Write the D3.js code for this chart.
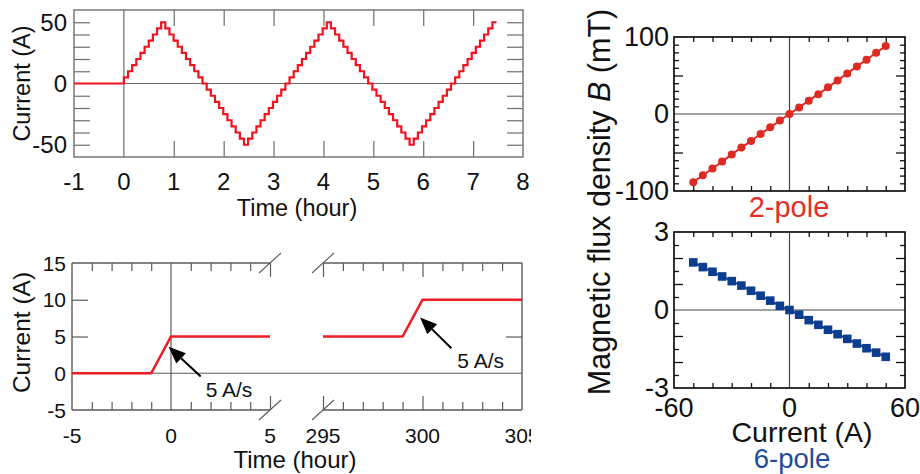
<!DOCTYPE html>
<html><head><meta charset="utf-8">
<script src="https://cdn.jsdelivr.net/npm/d3@7/dist/d3.min.js"></script>
<style>
html,body{margin:0;padding:0;background:#fff;}
svg{display:block;font-family:"Liberation Sans",Arial,Helvetica,sans-serif;}
</style></head><body>
<svg id="c" width="920" height="474"></svg>
<script>
// ---------- data: cyclic step current (top left) ----------
const stepTimes = [-1, 0, 0.083, 0.166, 0.249, 0.332, 0.415, 0.498, 0.581, 0.664, 0.747,
  0.83, 0.913, 0.996, 1.079, 1.162, 1.245, 1.328, 1.411, 1.494, 1.577,
  1.66, 1.743, 1.826, 1.909, 1.992, 2.075, 2.158, 2.241, 2.324, 2.407,
  2.49, 2.573, 2.656, 2.739, 2.822, 2.905, 2.988, 3.071, 3.154, 3.237,
  3.32, 3.403, 3.486, 3.569, 3.652, 3.735, 3.818, 3.901, 3.984, 4.067,
  4.15, 4.233, 4.316, 4.399, 4.482, 4.565, 4.648, 4.731, 4.814, 4.897,
  4.98, 5.063, 5.146, 5.229, 5.312, 5.395, 5.478, 5.561, 5.644, 5.727,
  5.81, 5.893, 5.976, 6.059, 6.142, 6.225, 6.308, 6.391, 6.474, 6.557,
  6.64, 6.723, 6.806, 6.889, 6.972, 7.055, 7.138, 7.221, 7.304, 7.387,
  7.47];
const stepCurrent = [0, 5, 10, 15, 20, 25, 30, 35, 40, 45, 50,
  45, 40, 35, 30, 25, 20, 15, 10, 5, 0,
  -5, -10, -15, -20, -25, -30, -35, -40, -45, -50,
  -45, -40, -35, -30, -25, -20, -15, -10, -5, 0,
  5, 10, 15, 20, 25, 30, 35, 40, 45, 50,
  45, 40, 35, 30, 25, 20, 15, 10, 5, 0,
  -5, -10, -15, -20, -25, -30, -35, -40, -45, -50,
  -45, -40, -35, -30, -25, -20, -15, -10, -5, 0,
  5, 10, 15, 20, 25, 30, 35, 40, 45, 50,
  50];
const topTimeTicks = [-1, 0, 1, 2, 3, 4, 5, 6, 7, 8];
const topTimeInnerTicks = [1, 2, 3, 4, 5, 6, 7];
const topCurrentTicks = [-50, 0, 50];
const topCurrentMinorTicks = [-50, -40, -30, -20, -10, 10, 20, 30, 40, 50];

// ---------- data: hold test (bottom left, broken axis) ----------
const holdTimesEarly = [-5, -1, 0, 5];
const holdCurrentEarly = [0, 0, 5, 5];
const holdTimesLate = [295, 299, 300, 305];
const holdCurrentLate = [5, 5, 10, 10];
const earlyTimeTicks = [-5, 0, 5];
const lateTimeTicks = [295, 300, 305];
const earlyMinorTicks = [-4, -3, -2, -1, 1, 2, 3, 4];
const lateMinorTicks = [296, 297, 298, 299, 301, 302, 303, 304];
const earlyMajorTicks = [5];
const lateMajorTicks = [295, 300];
const holdCurrentTicks = [-5, 0, 5, 10, 15];
const holdCurrentInnerTicks = [5, 10];
const rampNotes = [
  {text: "5 A/s", panel: "early", tip: [-0.12, 3.6], tail: [1.5, -0.45], label: [1.75, -3.2]},
  {text: "5 A/s", panel: "late", tip: [299.88, 7.6], tail: [301.45, 3.4], label: [301.75, 0.75]}
];

// ---------- data: magnetic flux density vs current (right) ----------
const fieldCurrent = [-50, -45, -40, -35, -30, -25, -20, -15, -10, -5, 0, 5, 10, 15, 20, 25, 30, 35, 40, 45, 50];
const field2pole = [-88.5, -79.5, -70.8, -61.8, -52.5, -43.6, -35.0, -26.0, -17.3, -8.4, 0, 8.6, 17.3, 25.8, 34.6, 43.6, 52.7, 61.8, 70.4, 79.5, 88.2];
const field6pole = [1.83, 1.65, 1.47, 1.29, 1.11, 0.94, 0.74, 0.55, 0.36, 0.16, 0, -0.18, -0.39, -0.57, -0.76, -0.93, -1.11, -1.29, -1.47, -1.64, -1.80];
const fieldCurrentTicks = [-60, 0, 60];
const fieldCurrentMinorTicks = [-50, -40, -30, -20, -10, 10, 20, 30, 40, 50];
const field2Ticks = [-100, 0, 100];
const field2MinorTicks = [-90, -80, -70, -60, -40, -30, -20, -10, 10, 20, 30, 40, 60, 70, 80, 90];
const field2MajorTicks = [-50, 50];
const field6Ticks = [-3, 0, 3];
const field6MinorTicks = [-2.5, -1.5, -0.5, 0.5, 1.5, 2.5];
const field6MajorTicks = [-2, -1, 1, 2];

// ---------- drawing ----------
const svg = d3.select("#c");

function tickAxis(g, axis, values, size, color, width) {
  g.call(axis.tickValues(values).tickSize(-size).tickFormat(""));
  g.select(".domain").remove();
  g.selectAll(".tick line").attr("stroke", color).attr("stroke-width", width);
  g.selectAll(".tick text").remove();
}

// ===== Top-left: cyclic current =====
{
  const x = d3.scaleLinear().domain([-1, 8]).range([74, 523]);
  const y = d3.scaleLinear().domain([-60, 60]).range([157, 10]);
  const g = svg.append("g");
  const grey = "#6e6e6e";
  g.append("line").attr("x1", x(0)).attr("x2", x(0)).attr("y1", y(60)).attr("y2", y(-60)).attr("stroke", grey).attr("stroke-width", 1.2);
  g.append("line").attr("x1", x(-1)).attr("x2", x(8)).attr("y1", y(0)).attr("y2", y(0)).attr("stroke", grey).attr("stroke-width", 1.2);
  tickAxis(g.append("g").attr("transform", `translate(0,${y(60)})`), d3.axisTop(x), topTimeInnerTicks, 16, grey, 1.2);
  tickAxis(g.append("g").attr("transform", `translate(0,${y(-60)})`), d3.axisBottom(x), topTimeInnerTicks, 16, grey, 1.2);
  tickAxis(g.append("g").attr("transform", `translate(${x(-1)},0)`), d3.axisLeft(y), topCurrentMinorTicks, 16, grey, 1.2);
  tickAxis(g.append("g").attr("transform", `translate(${x(8)},0)`), d3.axisRight(y), topCurrentMinorTicks, 16, grey, 1.2);
  g.append("rect").attr("x", x(-1)).attr("y", y(60)).attr("width", x(8) - x(-1)).attr("height", y(-60) - y(60))
    .attr("fill", "none").attr("stroke", grey).attr("stroke-width", 1.4);
  const pts = stepTimes.map((t, i) => [t, stepCurrent[i]]);
  g.append("path").datum(pts)
    .attr("d", d3.line().x(d => x(d[0])).y(d => y(d[1])).curve(d3.curveStepAfter))
    .attr("fill", "none").attr("stroke", "#f2121e").attr("stroke-width", 2.2);
  g.selectAll(".xl").data(topTimeTicks).join("text").attr("x", d => x(d)).attr("y", 190)
    .attr("text-anchor", "middle").attr("font-size", 24).attr("fill", "#111").text(d => d);
  g.selectAll(".yl").data(topCurrentTicks).join("text").attr("x", 67).attr("y", d => y(d) + 8.5)
    .attr("text-anchor", "end").attr("font-size", 24).attr("fill", "#111").text(d => d);
  g.append("text").attr("x", 297).attr("y", 216).attr("text-anchor", "middle").attr("font-size", 23.5).attr("fill", "#111").text("Time (hour)");
  g.append("text").attr("transform", `translate(30,${y(0)}) rotate(-90)`).attr("text-anchor", "middle")
    .attr("font-size", 23.5).attr("fill", "#111").text("Current (A)");
}

// ===== Bottom-left: hold test with broken axis =====
{
  const xE = d3.scaleLinear().domain([-5, 5]).range([72, 270]);
  const xL = d3.scaleLinear().domain([295, 305]).range([323, 522]);
  const y = d3.scaleLinear().domain([-5, 15]).range([410, 263]);
  svg.append("defs").append("clipPath").attr("id", "clipL").append("rect").attr("x", 0).attr("y", 230).attr("width", 531).attr("height", 244);
  const g = svg.append("g").attr("clip-path", "url(#clipL)");
  const grey = "#5a5a5a";
  g.append("line").attr("x1", xE(-5)).attr("x2", xL(305)).attr("y1", y(0)).attr("y2", y(0)).attr("stroke", grey).attr("stroke-width", 1.2);
  g.append("line").attr("x1", xE(0)).attr("x2", xE(0)).attr("y1", y(15)).attr("y2", y(-5)).attr("stroke", grey).attr("stroke-width", 1.2);
  const seg = (x1, y1, x2, y2, w) => g.append("line").attr("x1", x1).attr("y1", y1).attr("x2", x2).attr("y2", y2).attr("stroke", grey).attr("stroke-width", w || 1.4);
  seg(xE(-5), y(15), xE(5), y(15)); seg(xE(-5), y(-5), xE(5), y(-5)); seg(xE(-5), y(15), xE(-5), y(-5));
  seg(xL(295), y(15), xL(305), y(15)); seg(xL(295), y(-5), xL(305), y(-5)); seg(xL(305), y(15), xL(305), y(-5));
  tickAxis(g.append("g").attr("transform", `translate(0,${y(15)})`), d3.axisTop(xE), earlyMinorTicks, 8, grey, 1.2);
  tickAxis(g.append("g").attr("transform", `translate(0,${y(-5)})`), d3.axisBottom(xE), earlyMinorTicks, 8, grey, 1.2);
  tickAxis(g.append("g").attr("transform", `translate(0,${y(15)})`), d3.axisTop(xE), earlyMajorTicks, 14, grey, 1.2);
  tickAxis(g.append("g").attr("transform", `translate(0,${y(-5)})`), d3.axisBottom(xE), earlyMajorTicks, 14, grey, 1.2);
  tickAxis(g.append("g").attr("transform", `translate(0,${y(15)})`), d3.axisTop(xL), lateMinorTicks, 8, grey, 1.2);
  tickAxis(g.append("g").attr("transform", `translate(0,${y(-5)})`), d3.axisBottom(xL), lateMinorTicks, 8, grey, 1.2);
  tickAxis(g.append("g").attr("transform", `translate(0,${y(15)})`), d3.axisTop(xL), lateMajorTicks, 14, grey, 1.2);
  tickAxis(g.append("g").attr("transform", `translate(0,${y(-5)})`), d3.axisBottom(xL), lateMajorTicks, 14, grey, 1.2);
  tickAxis(g.append("g").attr("transform", `translate(${xE(-5)},0)`), d3.axisLeft(y), holdCurrentInnerTicks, 16, grey, 1.2);
  tickAxis(g.append("g").attr("transform", `translate(${xL(305)},0)`), d3.axisRight(y), holdCurrentInnerTicks, 16, grey, 1.2);
  [[xE(5), y(15)], [xE(5), y(-5)], [xL(295), y(15)], [xL(295), y(-5)]].forEach(([cx, cy]) => seg(cx - 11, cy + 10, cx + 11, cy - 10, 1.1));
  const line = (xs) => d3.line().x(d => xs(d[0])).y(d => y(d[1]));
  g.append("path").datum(holdTimesEarly.map((t, i) => [t, holdCurrentEarly[i]])).attr("d", line(xE))
    .attr("fill", "none").attr("stroke", "#ec1c24").attr("stroke-width", 2.6).attr("stroke-linejoin", "round");
  g.append("path").datum(holdTimesLate.map((t, i) => [t, holdCurrentLate[i]])).attr("d", line(xL))
    .attr("fill", "none").attr("stroke", "#ec1c24").attr("stroke-width", 2.6).attr("stroke-linejoin", "round");
  rampNotes.forEach(n => {
    const xs = n.panel === "early" ? xE : xL;
    const tx = xs(n.tip[0]), ty = y(n.tip[1]), sx = xs(n.tail[0]), sy = y(n.tail[1]);
    const ang = Math.atan2(ty - sy, tx - sx);
    const hl = 17, hw = 7;
    const bx = tx - hl * Math.cos(ang), by = ty - hl * Math.sin(ang);
    g.append("line").attr("x1", sx).attr("y1", sy).attr("x2", bx).attr("y2", by).attr("stroke", "#000").attr("stroke-width", 2);
    g.append("path").attr("d", `M${tx},${ty}L${bx + hw * Math.sin(ang)},${by - hw * Math.cos(ang)}L${bx - hw * Math.sin(ang)},${by + hw * Math.cos(ang)}Z`).attr("fill", "#000");
    g.append("text").attr("x", xs(n.label[0])).attr("y", y(n.label[1])).attr("font-size", 21).attr("fill", "#111").text(n.text);
  });
  const lab = (xs, vals) => g.selectAll(null).data(vals).join("text").attr("x", d => xs(d)).attr("y", 443)
    .attr("text-anchor", "middle").attr("font-size", 21).attr("fill", "#111").text(d => d);
  lab(xE, earlyTimeTicks); lab(xL, lateTimeTicks);
  g.selectAll(null).data(holdCurrentTicks).join("text").attr("x", 66).attr("y", d => y(d) + 7.5)
    .attr("text-anchor", "end").attr("font-size", 21).attr("fill", "#111").text(d => d);
  g.append("text").attr("x", 295).attr("y", 468).attr("text-anchor", "middle").attr("font-size", 24).attr("fill", "#111").text("Time (hour)");
  g.append("text").attr("transform", `translate(30,${y(5) - 4}) rotate(-90)`).attr("text-anchor", "middle")
    .attr("font-size", 24.5).attr("fill", "#111").text("Current (A)");
}

// ===== Right: B vs I =====
{
  const x = d3.scaleLinear().domain([-60, 60]).range([674, 905]);
  const yT = d3.scaleLinear().domain([-100, 100]).range([191, 37]);
  const yB = d3.scaleLinear().domain([-3, 3]).range([388, 232]);
  const g = svg.append("g");
  const ink = "#111";
  function panel(y, dom, minor, major, ticksLab) {
    const p = g.append("g");
    p.append("line").attr("x1", x(0)).attr("x2", x(0)).attr("y1", y(dom[1])).attr("y2", y(dom[0])).attr("stroke", "#444").attr("stroke-width", 1.2);
    p.append("line").attr("x1", x(-60)).attr("x2", x(60)).attr("y1", y(0)).attr("y2", y(0)).attr("stroke", "#444").attr("stroke-width", 1.2);
    tickAxis(p.append("g").attr("transform", `translate(0,${y(dom[1])})`), d3.axisTop(x), fieldCurrentMinorTicks, 5, ink, 1.3);
    tickAxis(p.append("g").attr("transform", `translate(0,${y(dom[0])})`), d3.axisBottom(x), fieldCurrentMinorTicks, 5, ink, 1.3);
    tickAxis(p.append("g").attr("transform", `translate(${x(-60)},0)`), d3.axisLeft(y), minor, 5, ink, 1.3);
    tickAxis(p.append("g").attr("transform", `translate(${x(60)},0)`), d3.axisRight(y), minor, 5, ink, 1.3);
    tickAxis(p.append("g").attr("transform", `translate(${x(-60)},0)`), d3.axisLeft(y), major, 9, ink, 1.3);
    tickAxis(p.append("g").attr("transform", `translate(${x(60)},0)`), d3.axisRight(y), major, 9, ink, 1.3);
    p.append("rect").attr("x", x(-60)).attr("y", y(dom[1])).attr("width", x(60) - x(-60)).attr("height", y(dom[0]) - y(dom[1]))
      .attr("fill", "none").attr("stroke", "#000").attr("stroke-width", 1.6);
    p.selectAll(null).data(ticksLab).join("text").attr("x", 669).attr("y", d => y(d) + 9)
      .attr("text-anchor", "end").attr("font-size", 27).attr("fill", ink).text(d => d);
    return p;
  }
  const pT = panel(yT, [-100, 100], field2MinorTicks, field2MajorTicks, field2Ticks);
  const pB = panel(yB, [-3, 3], field6MinorTicks, field6MajorTicks, field6Ticks);
  const red = "#dd2a22", blue = "#0c3d8e";
  pT.append("path").datum(fieldCurrent.map((c, i) => [c, field2pole[i]]))
    .attr("d", d3.line().x(d => x(d[0])).y(d => yT(d[1]))).attr("fill", "none").attr("stroke", red).attr("stroke-width", 2);
  pT.selectAll(null).data(fieldCurrent.map((c, i) => [c, field2pole[i]])).join("circle")
    .attr("cx", d => x(d[0])).attr("cy", d => yT(d[1])).attr("r", 4).attr("fill", red);
  pB.append("path").datum(fieldCurrent.map((c, i) => [c, field6pole[i]]))
    .attr("d", d3.line().x(d => x(d[0])).y(d => yB(d[1]))).attr("fill", "none").attr("stroke", blue).attr("stroke-width", 2);
  pB.selectAll(null).data(fieldCurrent.map((c, i) => [c, field6pole[i]])).join("rect")
    .attr("x", d => x(d[0]) - 4.3).attr("y", d => yB(d[1]) - 4.3).attr("width", 8.6).attr("height", 8.6).attr("fill", blue);
  g.selectAll(null).data(fieldCurrentTicks).join("text").attr("x", d => x(d)).attr("y", 417)
    .attr("text-anchor", "middle").attr("font-size", 27).attr("fill", ink).text(d => d);
  g.append("text").attr("x", 802).attr("y", 442).attr("text-anchor", "middle").attr("font-size", 28.5).attr("fill", ink).text("Current (A)");
  g.append("text").attr("x", 789).attr("y", 217).attr("text-anchor", "middle").attr("font-size", 29).attr("fill", "#e0302a").text("2-pole");
  g.append("text").attr("x", 792).attr("y", 468).attr("text-anchor", "middle").attr("font-size", 27.5).attr("fill", "#1f4c9c").text("6-pole");
  const yt = g.append("text").attr("transform", `translate(610,202) rotate(-90)`).attr("text-anchor", "middle")
    .attr("font-size", 30.5).attr("fill", ink);
  yt.append("tspan").text("Magnetic flux density ");
  yt.append("tspan").attr("font-style", "italic").text("B");
  yt.append("tspan").text(" (mT)");
}
</script>
</body></html>
